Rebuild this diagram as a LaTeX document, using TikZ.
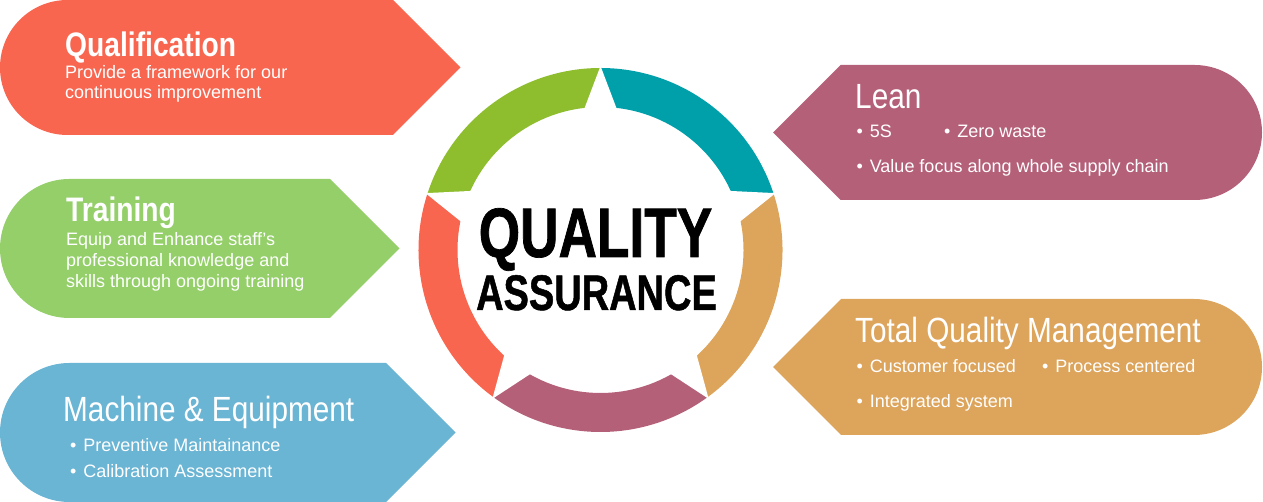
\documentclass[tikz,border=0pt]{standalone}
\usepackage{fontspec}
\setmainfont{Liberation Sans}
\newfontfamily\condreg[FakeStretch=0.85]{Liberation Sans}
\newfontfamily\condbold[FakeStretch=0.83]{Liberation Sans}
\newfontfamily\qafont[FakeStretch=0.76,FakeBold=1]{Liberation Sans}
\newcommand\bul{•\hspace{6.8pt}}
\definecolor{coral}{HTML}{F96650}
\definecolor{ringgreen}{HTML}{8EBD2E}
\definecolor{teal}{HTML}{00A0AB}
\definecolor{tan}{HTML}{DDA45C}
\definecolor{mauve}{HTML}{B56079}
\definecolor{lgreen}{HTML}{94CF6A}
\definecolor{lblue}{HTML}{6AB4D4}
\tikzset{
  txt/.style={anchor=base west, inner sep=0pt, text=white},
  bodytxt/.style={txt, font=\fontsize{18}{20}\selectfont},
  boldtitle/.style={txt, font=\condbold\bfseries\fontsize{34}{40}\selectfont},
  regtitle/.style={txt, font=\condreg\fontsize{35}{40}\selectfont},
}
\begin{document}
\begin{tikzpicture}[x=1pt,y=1pt]
\useasboundingbox (0,0) rectangle (1263,502);
% left shapes
\fill[coral] (67.5,502) -- (393,502) -- (460.5,434.5) -- (393,367) -- (67.5,367) arc[start angle=270,end angle=90,radius=67.5] -- cycle;
\fill[lgreen] (69.5,323) -- (330,323) -- (399.5,253.5) -- (330,184) -- (69.5,184) arc[start angle=270,end angle=90,radius=69.5] -- cycle;
\fill[lblue] (69.5,139) -- (386,139) -- (455.5,69.5) -- (386,0) -- (69.5,0) arc[start angle=270,end angle=90,radius=69.5] -- cycle;
% right shapes
\fill[mauve] (773,369.5) -- (840.5,437) -- (1194.5,437) arc[start angle=90,end angle=-90,radius=67.5] -- (840.5,302) -- cycle;
\fill[tan] (773,135) -- (841,203) -- (1194,203) arc[start angle=90,end angle=-90,radius=68] -- (841,67) -- cycle;
% ring
\begin{scope}[shift={(600.5,252)}]
\fill[teal] (18:182) arc[start angle=18,end angle=90,radius=182] -- (90:143) arc[start angle=90,end angle=18,radius=143] -- cycle;
\fill[ringgreen] (90:182) arc[start angle=90,end angle=162,radius=182] -- (162:143) arc[start angle=162,end angle=90,radius=143] -- cycle;
\fill[coral] (162:182) arc[start angle=162,end angle=234,radius=182] -- (234:143) arc[start angle=234,end angle=162,radius=143] -- cycle;
\fill[mauve] (234:182) arc[start angle=234,end angle=306,radius=182] -- (306:143) arc[start angle=306,end angle=234,radius=143] -- cycle;
\fill[tan] (306:182) arc[start angle=306,end angle=378,radius=182] -- (378:143) arc[start angle=378,end angle=306,radius=143] -- cycle;
\fill[white] (90:184) -- (126:78) -- (162:184) -- (198:78) -- (234:184) -- (270:78) -- (306:184) -- (342:78) -- (18:184) -- (54:78) -- cycle;
\end{scope}
\node[anchor=base, inner sep=0pt, font=\qafont\bfseries\fontsize{70}{70}\selectfont] (qa1) at (595.5,245) {QUALITY};
\node[anchor=base, inner sep=0pt, font=\qafont\bfseries\fontsize{50}{50}\selectfont] (qa2) at (596.5,192) {ASSURANCE};
% Qualification
\node[boldtitle] (qt) at (65,445) {Qualification};
\node[bodytxt] (q1) at (65,423) {Provide a framework for our};
\node[bodytxt] (q2) at (65,403) {continuous improvement};
% Training
\node[boldtitle] (tt) at (66,280) {Training};
\node[bodytxt] (t1) at (66,256) {Equip and Enhance staff’s};
\node[bodytxt] (t2) at (66,235) {professional knowledge and};
\node[bodytxt] (t3) at (66,214) {skills through ongoing training};
% Machine
\node[regtitle] (mt) at (63,80) {Machine \& Equipment};
\node[bodytxt] (m1) at (70,50) {\bul Preventive Maintainance};
\node[bodytxt] (m2) at (70,24) {\bul Calibration Assessment};
% Lean
\node[regtitle] (lt) at (855,393) {Lean};
\node[bodytxt] (l1) at (856.5,364) {\bul 5S};
\node[bodytxt] (l2) at (944,364) {\bul Zero waste};
\node[bodytxt] (l3) at (856.5,329) {\bul Value focus along whole supply chain};
% TQM
\node[regtitle] (qmt) at (855,159) {Total Quality Management};
\node[bodytxt] (qm1) at (856.5,129) {\bul Customer focused};
\node[bodytxt] (qm2) at (1042,129) {\bul Process centered};
\node[bodytxt] (qm3) at (856.5,94) {\bul Integrated system};
\end{tikzpicture}
\end{document}
